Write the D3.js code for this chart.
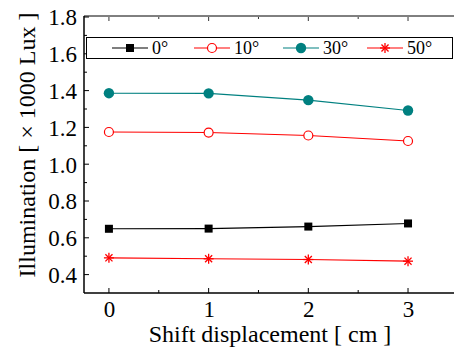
<!DOCTYPE html>
<html>
<head>
<meta charset="utf-8">
<script src="https://cdn.jsdelivr.net/npm/d3@7"></script>
<style>
  body { margin: 0; background: #fff; }
  svg { display: block; }
</style>
</head>
<body>
<svg id="chart" width="454" height="352" font-family="Liberation Serif"></svg>
<script>
// data
const shifts = [0, 1, 2, 3]
const angles = ['0°', '10°', '30°', '50°']
const deg0 = [0.649, 0.650, 0.661, 0.678]
const deg10 = [1.175, 1.172, 1.156, 1.126]
const deg30 = [1.386, 1.385, 1.348, 1.292]
const deg50 = [0.491, 0.486, 0.482, 0.473]
const yTicks = [0.4, 0.6, 0.8, 1.0, 1.2, 1.4, 1.6, 1.8]
const xTicks = [0, 1, 2, 3]

const series = [
  { name: angles[0], values: deg0, color: '#000000', marker: 'square' },
  { name: angles[1], values: deg10, color: '#ff0000', marker: 'circleOpen' },
  { name: angles[2], values: deg30, color: '#008080', marker: 'hex' },
  { name: angles[3], values: deg50, color: '#ff0000', marker: 'star' }
]

const FONT = 'Liberation Serif'
const svg = d3.select('#chart')
const plotLeft = 84, plotTop = 17, plotBottom = 293

const x = d3.scaleLinear().domain([-0.25, 3.75]).range([plotLeft, plotLeft + 4 * 99.7])
const y = d3.scaleLinear().domain([0.3, 1.8]).range([plotBottom, plotTop])

function drawMarker(g, type, color) {
  if (type === 'square') {
    g.append('rect').attr('x', -4).attr('y', -4).attr('width', 8).attr('height', 8).attr('fill', color)
  } else if (type === 'circleOpen') {
    g.append('circle').attr('r', 4.5).attr('fill', '#fff').attr('stroke', color).attr('stroke-width', 1.2)
  } else if (type === 'hex') {
    g.append('path').attr('d', d3.symbol().type(d3.symbolCircle).size(85)()).attr('fill', color)
  } else {
    const r = 5
    for (let k = 0; k < 4; k++) {
      const a = k * Math.PI / 4
      g.append('line')
        .attr('x1', -r * Math.cos(a)).attr('y1', -r * Math.sin(a))
        .attr('x2', r * Math.cos(a)).attr('y2', r * Math.sin(a))
        .attr('stroke', color).attr('stroke-width', 1.3)
    }
  }
}

// series
const line = d3.line().x((d, i) => x(shifts[i])).y(d => y(d))
series.forEach(s => {
  svg.append('path').datum(s.values)
    .attr('d', line).attr('fill', 'none')
    .attr('stroke', s.color).attr('stroke-width', 1.1)
  s.values.forEach((v, i) => {
    const g = svg.append('g').attr('transform', `translate(${x(shifts[i])},${y(v)})`)
    drawMarker(g, s.marker, s.color)
  })
})

// axes
const yMinor = d3.range(0.4, 1.81, 0.1)
const xMinor = d3.range(-0.5, 3.76, 0.5)

const yAxis = svg.append('g').attr('transform', `translate(${plotLeft},0)`)
  .call(d3.axisLeft(y).tickValues(yTicks).tickFormat(d3.format('.1f')).tickSize(0).tickPadding(7))
yAxis.select('.domain').remove()
yAxis.selectAll('text').attr('fill', '#000').attr('dy', '0.34em')
  .style('font-family', FONT).style('font-size', '23px')

const xAxis = svg.append('g').attr('transform', `translate(0,${plotBottom})`)
  .call(d3.axisBottom(x).tickValues(xTicks).tickFormat(d3.format('d')).tickSize(0).tickPadding(8))
xAxis.select('.domain').remove()
xAxis.selectAll('text').attr('fill', '#000')
  .style('font-family', FONT).style('font-size', '23px')

// inner ticks
yMinor.forEach(v => {
  const major = Math.abs(Math.round(v * 5) - v * 5) < 1e-6
  svg.append('line').attr('x1', plotLeft).attr('x2', plotLeft + (major ? 5 : 3))
    .attr('y1', y(v)).attr('y2', y(v)).attr('stroke', '#000').attr('stroke-width', 1)
})
xMinor.filter(v => v > -0.25).forEach(v => {
  const major = Number.isInteger(v)
  svg.append('line').attr('x1', x(v)).attr('x2', x(v))
    .attr('y1', plotBottom).attr('y2', plotBottom - (major ? 5 : 3)).attr('stroke', '#000').attr('stroke-width', 1)
  svg.append('line').attr('x1', x(v)).attr('x2', x(v))
    .attr('y1', plotTop).attr('y2', plotTop + (major ? 4 : 2)).attr('stroke', '#000').attr('stroke-width', 0.8)
})

// frame
svg.append('line').attr('x1', plotLeft).attr('x2', 460).attr('y1', plotBottom).attr('y2', plotBottom).attr('stroke', '#000').attr('stroke-width', 1.5)
svg.append('line').attr('x1', plotLeft).attr('x2', plotLeft).attr('y1', plotTop - 1).attr('y2', plotBottom).attr('stroke', '#000').attr('stroke-width', 1.5)
svg.append('line').attr('x1', plotLeft).attr('x2', 460).attr('y1', plotTop - 1).attr('y2', plotTop - 1).attr('stroke', '#000').attr('stroke-width', 1)

// axis titles
svg.append('text').attr('x', 270).attr('y', 342).attr('text-anchor', 'middle')
  .style('font-family', FONT).style('font-size', '24px').text('Shift displacement [ cm ]')
svg.append('text').attr('transform', 'translate(35,145) rotate(-90)').attr('text-anchor', 'middle')
  .style('font-family', FONT).style('font-size', '24px').text('Illumination [ × 1000 Lux ]')

// legend
const legend = svg.append('g')
legend.append('rect').attr('x', 86.5).attr('y', 37.5).attr('width', 366).attr('height', 21)
  .attr('fill', '#fff').attr('stroke', '#000').attr('stroke-width', 1)
const legX = [112, 194, 283, 367]
series.forEach((s, i) => {
  const g = legend.append('g').attr('transform', `translate(${legX[i]},48)`)
  g.append('line').attr('x1', 0).attr('x2', 36).attr('stroke', s.color).attr('stroke-width', 1.1)
  drawMarker(g.append('g').attr('transform', 'translate(18,0)'), s.marker, s.color)
  g.append('text').attr('x', 40).attr('y', 6)
    .style('font-family', FONT).style('font-size', '18px').text(s.name)
})
</script>
</body>
</html>
